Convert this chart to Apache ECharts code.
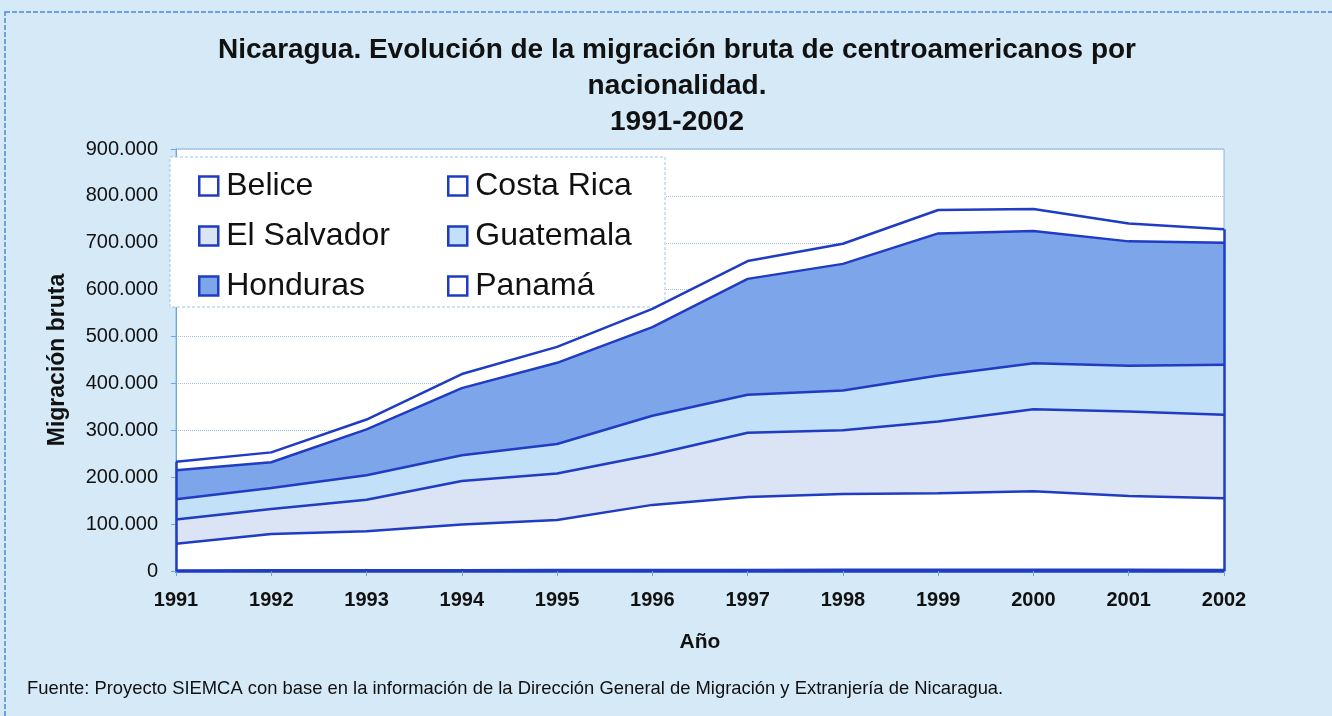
<!DOCTYPE html>
<html>
<head>
<meta charset="utf-8">
<script src="https://cdn.jsdelivr.net/npm/echarts@6/dist/echarts.min.js"></script>
<style>
  html, body { margin: 0; padding: 0; background: #d5e9f7; }
  #chart { width: 1332px; height: 716px; }
</style>
</head>
<body>
<div id="chart"></div>
<script>
// datos (personas por año)
const years = ["1991", "1992", "1993", "1994", "1995", "1996", "1997", "1998", "1999", "2000", "2001", "2002"];
const belice = [1200, 1400, 1500, 1800, 2000, 2100, 2300, 2400, 2500, 2600, 2400, 2300];
const costaRica = [56800, 77600, 83500, 97200, 107000, 138900, 155700, 161600, 163500, 167400, 157600, 152700];
const elSalvador = [52000, 53000, 67000, 93000, 99000, 107000, 137000, 136000, 153000, 175000, 180000, 178000];
const guatemala = [43000, 45000, 52000, 55000, 63000, 83000, 81000, 85000, 98000, 98000, 98000, 107000];
const honduras = [62000, 55000, 98000, 143000, 173000, 189000, 247000, 270000, 303000, 282000, 265000, 260000];
const panama = [18000, 21000, 21000, 30000, 34000, 39000, 38000, 43000, 50000, 47000, 38000, 29000];

const yTicks = [0, 100000, 200000, 300000, 400000, 500000, 600000, 700000, 800000, 900000];

const lineBlue = "#1f3cc2";
const fills = {
  "Belice": "#ffffff",
  "Costa Rica": "#ffffff",
  "El Salvador": "#dbe4f5",
  "Guatemala": "#c2e0f8",
  "Honduras": "#7ca5ea",
  "Panamá": "#ffffff"
};

const seriesData = [
  ["Belice", belice],
  ["Costa Rica", costaRica],
  ["El Salvador", elSalvador],
  ["Guatemala", guatemala],
  ["Honduras", honduras],
  ["Panamá", panama]
];

// total apilado, para cerrar los bordes verticales del área
const totals = years.map((y, i) => seriesData.reduce((s, d) => s + d[1][i], 0));

function fmtMiles(v) {
  return String(v).replace(/\B(?=(\d{3})+(?!\d))/g, ".");
}

const chart = echarts.init(document.getElementById("chart"));

const series = seriesData.map(([name, vals], idx) => {
  const s = {
    name: name,
    type: "line",
    stack: "total",
    data: vals,
    showSymbol: false,
    symbol: "none",
    color: fills[name],
    lineStyle: { color: lineBlue, width: 2.5 },
    areaStyle: { color: fills[name], opacity: 1 },
    emphasis: { disabled: true }
  };
  if (idx === seriesData.length - 1) {
    s.markLine = {
      silent: true,
      symbol: "none",
      label: { show: false },
      lineStyle: { color: lineBlue, width: 2.5, type: "solid" },
      data: [
        [{ coord: [years[0], 0] }, { coord: [years[0], totals[0]] }],
        [{ coord: [years[years.length - 1], 0] }, { coord: [years[years.length - 1], totals[totals.length - 1]] }]
      ]
    };
  }
  return s;
});

function legendItems(names) {
  return names.map(n => ({
    name: n,
    itemStyle: { color: fills[n], borderColor: lineBlue, borderWidth: 2.5 }
  }));
}

const legendBase = {
  orient: "vertical",
  icon: "rect",
  itemWidth: 19,
  itemHeight: 19,
  itemGap: 18,
  selectedMode: false,
  textStyle: { fontFamily: "Liberation Sans", fontSize: 32, color: "#111", padding: [0, 0, 0, 3] }
};

chart.setOption({
  backgroundColor: "#d5e9f7",
  animation: false,
  title: {
    text: "Nicaragua. Evolución de la migración bruta de centroamericanos por\nnacionalidad.\n1991-2002",
    left: 672,
    top: 27,
    textAlign: "center",
    textStyle: {
      fontFamily: "Liberation Sans",
      fontWeight: "bold",
      fontSize: 28,
      lineHeight: 36,
      color: "#111"
    }
  },
  legend: [
    Object.assign({ left: 193, top: 165, data: legendItems(["Belice", "El Salvador", "Honduras"]) }, legendBase),
    Object.assign({ left: 442, top: 165, data: legendItems(["Costa Rica", "Guatemala", "Panamá"]) }, legendBase)
  ],
  grid: {
    left: 176,
    right: 108,
    top: 149,
    bottom: 145,
    show: true,
    backgroundColor: "#ffffff",
    borderColor: "#86b6e2",
    borderWidth: 1
  },
  xAxis: {
    type: "category",
    data: years,
    boundaryGap: false,
    name: "Año",
    nameLocation: "middle",
    nameGap: 61,
    nameTextStyle: { fontFamily: "Liberation Sans", fontWeight: "bold", fontSize: 21, color: "#111" },
    axisLine: { lineStyle: { color: lineBlue, width: 2.5 } },
    axisTick: { show: true, length: 5, lineStyle: { color: "#6fa6dc" } },
    axisLabel: { margin: 19, fontFamily: "Liberation Sans", fontWeight: "bold", fontSize: 20, color: "#111" },
    splitLine: { show: false }
  },
  yAxis: {
    type: "value",
    min: 0,
    max: yTicks[yTicks.length - 1],
    interval: yTicks[1] - yTicks[0],
    name: "Migración bruta",
    nameLocation: "middle",
    nameGap: 107,
    nameRotate: 90,
    nameTextStyle: { fontFamily: "Liberation Sans", fontWeight: "bold", fontSize: 23, color: "#111" },
    axisLine: { show: true, lineStyle: { color: "#6fa6dc", width: 1 } },
    axisTick: { show: true, length: 5, lineStyle: { color: "#6fa6dc" } },
    axisLabel: { margin: 18, fontFamily: "Liberation Sans", fontSize: 20, color: "#111", formatter: fmtMiles },
    splitLine: { show: true, lineStyle: { color: "#a7c4de", type: "dotted", width: 1 } }
  },
  graphic: [
    {
      type: "rect",
      z: 0,
      silent: true,
      shape: { x: 5, y: 12, width: 1400, height: 800 },
      style: { fill: "none", stroke: "#4f86d6", lineWidth: 1.5, lineDash: [5, 2] }
    },
    {
      type: "rect",
      z: 3,
      silent: true,
      shape: { x: 170, y: 157, width: 495, height: 150 },
      style: { fill: "#ffffff", stroke: "#9cc6e8", lineWidth: 1, lineDash: [3, 2] }
    },
    {
      type: "text",
      z: 5,
      left: 27,
      top: 680,
      style: {
        text: "Fuente: Proyecto SIEMCA con base en la información de la Dirección General de Migración y Extranjería de Nicaragua.",
        fontFamily: "Liberation Sans",
        fontSize: 18.4,
        fill: "#111"
      }
    }
  ],
  series: series
});
</script>
</body>
</html>
